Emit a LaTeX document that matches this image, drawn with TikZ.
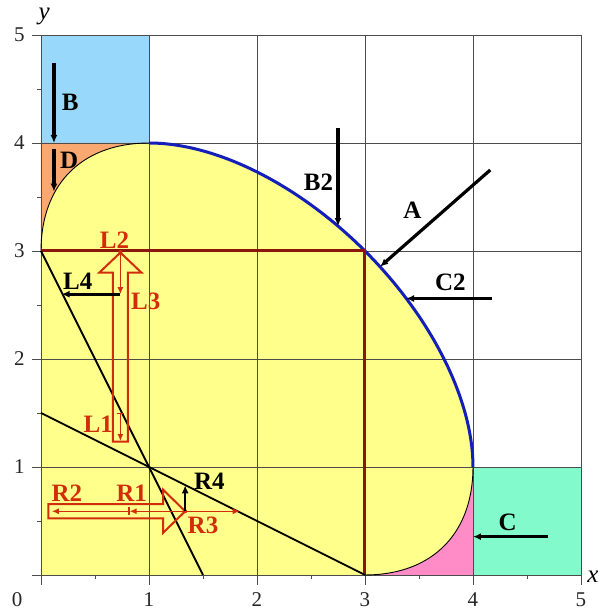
\documentclass[tikz,border=0pt]{standalone}
\usepackage{fontspec}
\setmainfont{Liberation Serif}
\usetikzlibrary{arrows.meta}
\definecolor{cblue}{RGB}{152,216,250}
\definecolor{corange}{RGB}{248,168,112}
\definecolor{cgreen}{RGB}{130,250,204}
\definecolor{cpink}{RGB}{255,140,198}
\definecolor{cyel}{RGB}{255,255,140}
\definecolor{carc}{RGB}{20,30,185}
\definecolor{cdred}{RGB}{140,22,12}
\definecolor{cred}{RGB}{210,45,10}
\begin{document}
\begin{tikzpicture}[x=108pt,y=108pt,
  lab/.style={font=\fontsize{25}{27}\selectfont\bfseries, inner sep=0pt},
  rlab/.style={lab, text=cred},
  num/.style={font=\fontsize{21}{23}\selectfont, text=black!85, inner sep=0pt},
  axlab/.style={font=\fontsize{25}{27}\selectfont\itshape, inner sep=0pt},
  gridline/.style={draw=black!70, line width=0.9pt},
  blackarrow/.style={line width=3.2pt, -{Latex[length=8pt,width=7pt]}},
  redarrow/.style={draw=cred, line width=1.5pt, -{Latex[length=7pt,width=6pt]}},
  blockarrow/.style={draw=cred, line width=2pt, line join=miter},
  guide/.style={draw=black, line width=1.8pt}
]
\useasboundingbox (-0.3796,-0.352) rectangle (5.194,5.324);
% coloured regions
\fill[cblue] (0,4) rectangle (1,5);
\fill[cgreen] (4,0) rectangle (5,1);
\fill[corange] (0,4) -- (0,3) -- plot[domain=120:60, samples=40, variable=\t]
  ({2+cos(\t)-sqrt(3)*sin(\t)},{2+cos(\t)+sqrt(3)*sin(\t)}) -- cycle;
\fill[cpink] (4,0) -- (4,1) -- plot[domain=-60:-120, samples=40, variable=\t]
  ({2+cos(\t)-sqrt(3)*sin(\t)},{2+cos(\t)+sqrt(3)*sin(\t)}) -- cycle;
\fill[cyel] (0,0) -- (0,3) -- plot[domain=120:-120, samples=161, variable=\t]
  ({2+cos(\t)-sqrt(3)*sin(\t)},{2+cos(\t)+sqrt(3)*sin(\t)}) -- cycle;
% grid and ticks
\draw[gridline, step=1] (0,0) grid (5,5);
\foreach \i in {0,...,5} {
  \draw[gridline] (\i,0) -- (\i,-0.09);
  \draw[gridline] (0,\i) -- (-0.08,\i);
}
\foreach \i in {0.5,1.5,...,4.5} {
  \draw[gridline] (\i,0) -- (\i,-0.04);
  \draw[gridline] (0,\i) -- (-0.04,\i);
}
% tick labels
\node[num] (nx0) at (-0.22,-0.23) {0};
\foreach \i in {1,...,5} {
  \node[num] (nx\i) at (\i,-0.23) {\i};
  \node[num] (ny\i) at (-0.2,\i) {\i};
}
\node[axlab] (xlab) at (5.11,-0.02) {x};
\node[axlab] (ylab) at (0.03,5.17) {y};
% ellipse arcs
\draw[line width=0.9pt] plot[domain=120:60, samples=40, variable=\t]
  ({2+cos(\t)-sqrt(3)*sin(\t)},{2+cos(\t)+sqrt(3)*sin(\t)});
\draw[line width=0.9pt] plot[domain=-60:-120, samples=40, variable=\t]
  ({2+cos(\t)-sqrt(3)*sin(\t)},{2+cos(\t)+sqrt(3)*sin(\t)});
\draw[carc, line width=3pt] plot[domain=60:-60, samples=100, variable=\t]
  ({2+cos(\t)-sqrt(3)*sin(\t)},{2+cos(\t)+sqrt(3)*sin(\t)});
% coordinates
\coordinate (P03) at (0,3);
\coordinate (P33) at (3,3);
\coordinate (P30) at (3,0);
\coordinate (P150) at (1.5,0);
\coordinate (P015) at (0,1.5);
% dark red lines
\draw[cdred, line width=3pt] (P03) -- (P33) -- (P30);
% black lines
\draw[guide] (P03) -- (P150);
\draw[guide] (P015) -- (P30);
% black arrows
\coordinate (Bs) at (0.12,4.74); \coordinate (Be) at (0.12,4.0);
\coordinate (Ds) at (0.12,3.94); \coordinate (De) at (0.12,3.55);
\coordinate (B2s) at (2.75,4.14); \coordinate (B2e) at (2.75,3.23);
\coordinate (As) at (4.16,3.75); \coordinate (Ae) at (3.14,2.855);
\coordinate (C2s) at (4.18,2.56); \coordinate (C2e) at (3.38,2.56);
\coordinate (Cs) at (4.69,0.355); \coordinate (Ce) at (4.0,0.355);
\draw[blackarrow] (Bs) -- (Be);
\draw[blackarrow] (Ds) -- (De);
\draw[blackarrow] (B2s) -- (B2e);
\draw[blackarrow] (As) -- (Ae);
\draw[blackarrow] (C2s) -- (C2e);
\draw[blackarrow] (Cs) -- (Ce);
% block arrows
\draw[blockarrow] (0.665,1.235) -- (0.805,1.235) -- (0.805,2.80) -- (0.93,2.80)
  -- (0.735,2.985) -- (0.54,2.80) -- (0.665,2.80) -- cycle;
\draw[blockarrow] (0.068,0.525) -- (1.13,0.525) -- (1.13,0.39) -- (1.335,0.59)
  -- (1.13,0.79) -- (1.13,0.655) -- (0.068,0.655) -- cycle;
% red thin arrows
\coordinate (Ltip) at (0.735,2.99);
\coordinate (L3e) at (0.735,2.6);
\coordinate (L4e) at (0.19,2.6);
\coordinate (L1s) at (0.735,1.50);
\coordinate (L1e) at (0.735,1.24);
\coordinate (Rtip) at (1.335,0.59);
\coordinate (R3e) at (1.84,0.59);
\coordinate (R1e) at (0.82,0.59);
\coordinate (R2e) at (0.10,0.59);
\coordinate (R4e) at (1.335,0.83);
\fill[cred] (Ltip) circle (2pt);
\draw[redarrow] (Ltip) -- (L3e);
\draw[redarrow, {Bar[width=7pt]}-{Latex[length=7pt,width=6pt]}] (L1s) -- (L1e);
\draw[redarrow] (Rtip) -- (R3e);
\draw[redarrow] (Rtip) -- (R1e);
\draw[redarrow, {Bar[width=8pt]}-{Latex[length=7pt,width=6pt]}] (R1e) -- (R2e);
\fill[cred] (Rtip) circle (2pt);
\draw[blackarrow] (L3e) -- (L4e);
\draw[blackarrow, line width=2.6pt] (Rtip) -- (R4e);
% labels
\node[lab] (lB) at (0.27,4.38) {B};
\node[lab] (lD) at (0.26,3.84) {D};
\node[lab] (lB2) at (2.57,3.64) {B2};
\node[lab] (lA) at (3.44,3.38) {A};
\node[lab] (lC2) at (3.79,2.71) {C2};
\node[lab] (lC) at (4.32,0.49) {C};
\node[lab] (lL4) at (0.34,2.72) {L4};
\node[lab] (lR4) at (1.56,0.87) {R4};
\node[rlab] (lL2) at (0.68,3.10) {L2};
\node[rlab] (lL3) at (0.97,2.53) {L3};
\node[rlab] (lL1) at (0.53,1.40) {L1};
\node[rlab] (lR2) at (0.24,0.757) {R2};
\node[rlab] (lR1) at (0.84,0.757) {R1};
\node[rlab] (lR3) at (1.50,0.46) {R3};
\end{tikzpicture}
\end{document}
